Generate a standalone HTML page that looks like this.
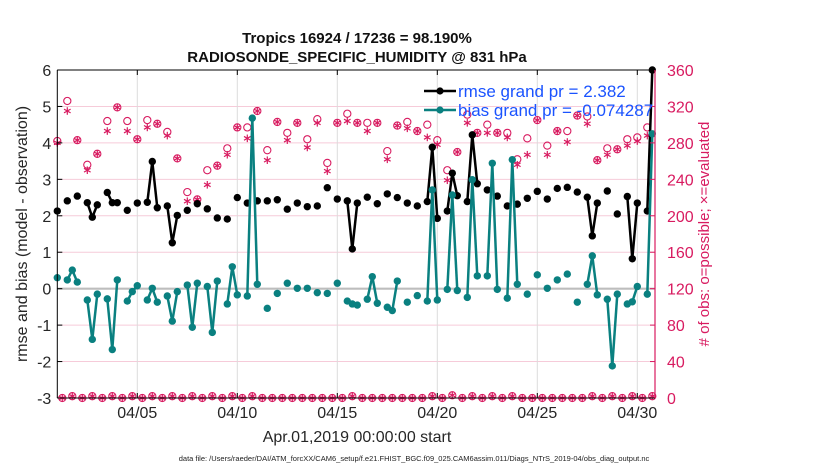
<!DOCTYPE html>
<html><head><meta charset="utf-8">
<style>
html,body{margin:0;padding:0;background:#fff;}
svg{display:block;font-family:"Liberation Sans",Arial,sans-serif;}
</style></head>
<body>
<svg id="chart" width="830" height="470" viewBox="0 0 830 470" xmlns="http://www.w3.org/2000/svg">
<rect width="830" height="470" fill="#fff"/>
<text x="357" y="43" text-anchor="middle" font-size="15" font-weight="bold" fill="#111">Tropics 16924 / 17236 = 98.190%</text>
<text x="357" y="62" text-anchor="middle" font-size="15" font-weight="bold" fill="#111">RADIOSONDE_SPECIFIC_HUMIDITY @ 831 hPa</text>
<g id="grid"></g>
<g id="marks"></g>
<g id="axes"></g>
<text transform="translate(27,234) rotate(-90)" text-anchor="middle" font-size="16" fill="#262626">rmse and bias (model - observation)</text>
<text transform="translate(709,234) rotate(-90)" text-anchor="middle" font-size="15" fill="#d81b60">&#35; of obs: o=possible; &#215;=evaluated</text>
<text x="357" y="442" text-anchor="middle" font-size="16" fill="#262626">Apr.01,2019 00:00:00 start</text>
<text x="414" y="461" text-anchor="middle" font-size="7.5" fill="#222">data file: /Users/raeder/DAI/ATM_forcXX/CAM6_setup/f.e21.FHIST_BGC.f09_025.CAM6assim.011/Diags_NTrS_2019-04/obs_diag_output.nc</text>
<g>
  <line x1="424" y1="91" x2="456" y2="91" stroke="#000" stroke-width="2.5"/>
  <circle cx="440" cy="91" r="3.6" fill="#000"/>
  <text x="458" y="97" font-size="17" fill="#1a53ff">rmse grand pr = 2.382</text>
  <line x1="424" y1="110" x2="456" y2="110" stroke="#0a8080" stroke-width="2.5"/>
  <circle cx="440" cy="110" r="3.6" fill="#0a8080"/>
  <text x="458" y="116" font-size="17" fill="#1a53ff">bias grand pr = -0.074287</text>
</g>
</svg>
<script>
const xTickLabels = ["04/05","04/10","04/15","04/20","04/25","04/30"];
const xTickDays = [4,9,14,19,24,29];
const leftTicks = [-3,-2,-1,0,1,2,3,4,5,6];
const rightTicks = [0,40,80,120,160,200,240,280,320,360];
// values at 6-hourly slots (slot j = day j/4), null = missing
const rmse = [
2.13,null,2.41,null,2.54,null,2.36,1.96,2.30,null,
2.64,2.36,2.36,null,2.15,null,2.35,null,2.37,3.49,
2.22,null,2.27,1.26,2.01,null,2.15,null,2.33,null,
2.19,null,1.94,null,1.91,null,2.50,null,2.35,null,
2.41,null,2.41,null,2.44,null,2.18,null,2.35,null,
2.25,null,2.27,null,2.77,null,2.46,null,2.41,1.09,
2.35,null,2.51,null,2.33,null,2.60,null,2.50,null,
2.35,null,2.27,null,2.39,3.88,1.93,null,2.13,3.17,
2.55,null,2.39,4.22,2.88,null,2.71,null,2.54,null,
2.27,null,2.32,null,2.48,null,2.67,null,2.46,null,
2.75,null,2.78,null,2.65,null,2.51,1.45,2.35,null,
2.68,null,2.05,null,2.53,0.82,2.35,null,2.13,6.0];
const bias = [
.30,null,.24,.51,.18,null,-.31,-1.39,-.15,null,
-.28,-1.67,.24,null,-.34,-.08,.08,null,-.31,.01,
-.37,null,-.20,-.89,-.08,null,.10,-1.06,.15,null,
.06,-1.20,.21,null,-.42,.60,-.17,null,-.20,4.68,
.12,null,-.54,null,-.13,null,.15,null,.01,null,
.01,null,-.11,null,-.13,null,.15,null,-.34,-.42,
-.45,null,-.29,.33,-.40,null,-.51,-.60,.21,null,
-.37,null,-.19,null,-.34,2.71,-.31,null,-.02,2.57,
-.05,null,-.24,2.99,.35,null,.35,3.44,-.02,null,
-.26,3.54,.12,null,-.15,null,.38,null,.01,null,
.24,null,.40,null,-.37,null,.12,.90,-.17,null,
-.29,-2.12,-.15,null,-.42,-.36,.06,null,-.15,4.25];
const possible = [
282,0,326,2,283,0,256,2,268,0,
304,2,319,0,304,2,284,0,305,2,
301,0,292,2,263,0,226,2,218,0,
250,2,255,0,274,2,297,0,297,2,
315,0,272,0,303,0,291,0,302,0,
284,0,306,0,258,0,302,0,312,2,
302,0,302,0,302,0,271,0,299,0,
303,0,293,0,300,2,283,0,250,3,
270,0,311,2,291,0,300,2,291,0,
291,2,262,0,285,0,305,0,277,0,
293,0,293,0,310,0,309,2,261,0,
274,2,273,0,284,2,286,0,297,2];
const evaluated = [
280,0,315,2,283,0,250,2,268,0,
293,2,319,0,293,2,284,0,297,2,
301,0,288,2,263,0,216,2,218,0,
234,2,255,0,267,2,297,0,285,2,
315,0,261,0,303,0,283,0,302,0,
275,0,302,0,249,0,302,0,304,2,
302,0,293,0,302,0,262,0,299,0,
296,0,293,0,286,2,278,0,239,3,
270,0,302,2,291,0,291,2,291,0,
286,2,256,0,267,0,305,0,267,0,
293,0,281,0,310,0,301,2,261,0,
267,2,273,0,277,2,282,0,288,2];

const NS="http://www.w3.org/2000/svg";
const X0=57.3, X1=655, Y0=70, Y1=398;
const xDay = d => X0 + 20*d;
const xSlot = j => xDay(j/4);
const yL = v => Y1 - (v+3)*(Y1-Y0)/9;
const yR = c => Y1 - c*(Y1-Y0)/360;
const CRIM="#d81b60", TEAL="#0a8080";
function mk(tag, attrs, parent){const e=document.createElementNS(NS,tag);for(const k in attrs)e.setAttribute(k,attrs[k]);parent.appendChild(e);return e;}
const grid=document.getElementById('grid'), marks=document.getElementById('marks'), axes=document.getElementById('axes');

leftTicks.forEach(v=>{
  if(v!==-3 && v!==6 && v!==0){
    const g=mk('line',{x1:X0,x2:X1,y1:yL(v),y2:yL(v),stroke:'#f6cbd9','stroke-width':1},grid);
    
    
  }
  const t=mk('text',{x:X0-6,y:yL(v)+6,'text-anchor':'end','font-size':16,fill:'#262626'},axes);
  t.textContent=String(v);
  
  
  mk('line',{x1:X0,x2:X0+5,y1:yL(v),y2:yL(v),stroke:'#000'},axes);
});
rightTicks.forEach(c=>{
  const t=mk('text',{x:X1+12,y:yR(c)+6,'font-size':16,fill:CRIM},axes);
  t.textContent=String(c);
  
  
  mk('line',{x1:X1-5,x2:X1,y1:yR(c),y2:yR(c),stroke:CRIM},axes);
});
xTickDays.forEach((d,i)=>{
  const g=mk('line',{x1:xDay(d),x2:xDay(d),y1:Y0,y2:Y1,stroke:'#dcdcdc','stroke-width':1},grid);
  
  
  mk('line',{x1:xDay(d),x2:xDay(d),y1:Y1,y2:Y1-5,stroke:'#000'},axes);
  mk('line',{x1:xDay(d),x2:xDay(d),y1:Y0,y2:Y0+5,stroke:'#000'},axes);
  const t=mk('text',{x:xDay(d),y:418,'text-anchor':'middle','font-size':16,fill:'#262626'},axes);
  t.textContent=xTickLabels[i];
  
  
});
const zl=mk('line',{x1:X0,x2:X1,y1:yL(0),y2:yL(0),stroke:'#bdbdbd','stroke-width':2.2},grid);



// count markers
possible.forEach((c,j)=>{
  if(c===null)return;
  const m=mk('circle',{cx:xSlot(j),cy:yR(c),r:3.6,fill:'none',stroke:CRIM,'stroke-width':1.1},marks);
  
  
});
evaluated.forEach((c,j)=>{
  if(c===null)return;
  const x=xSlot(j), y=yR(c), r=3.8;
  const g=mk('g',{stroke:CRIM,'stroke-width':1.2},marks);
  
  
  mk('line',{x1:x,x2:x,y1:y-r,y2:y+r},g);
  mk('line',{x1:x-r*0.87,x2:x+r*0.87,y1:y-r/2,y2:y+r/2},g);
  mk('line',{x1:x-r*0.87,x2:x+r*0.87,y1:y+r/2,y2:y-r/2},g);
});

function series(vals,color,name){
  for(let j=0;j<vals.length-1;j++){
    if(vals[j]!==null && vals[j+1]!==null){
      const l=mk('line',{x1:xSlot(j),y1:yL(vals[j]),x2:xSlot(j+1),y2:yL(vals[j+1]),stroke:color,'stroke-width':2.5},marks);
      
      
    }
  }
  vals.forEach((v,j)=>{
    if(v===null)return;
    const c=mk('circle',{cx:xSlot(j),cy:yL(v),r:3.7,fill:color},marks);
    
    
  });
}
series(rmse,'#000','rmse');
series(bias,TEAL,'bias');

mk('line',{x1:X0,x2:X1,y1:Y0,y2:Y0,stroke:'#000','stroke-width':1},axes);
mk('line',{x1:X0,x2:X1,y1:Y1,y2:Y1,stroke:'#000','stroke-width':1},axes);
mk('line',{x1:X0,x2:X0,y1:Y0,y2:Y1,stroke:'#000','stroke-width':1},axes);
mk('line',{x1:X1,x2:X1,y1:Y0,y2:Y1,stroke:CRIM,'stroke-width':1.2},axes);
</script>
</body></html>
